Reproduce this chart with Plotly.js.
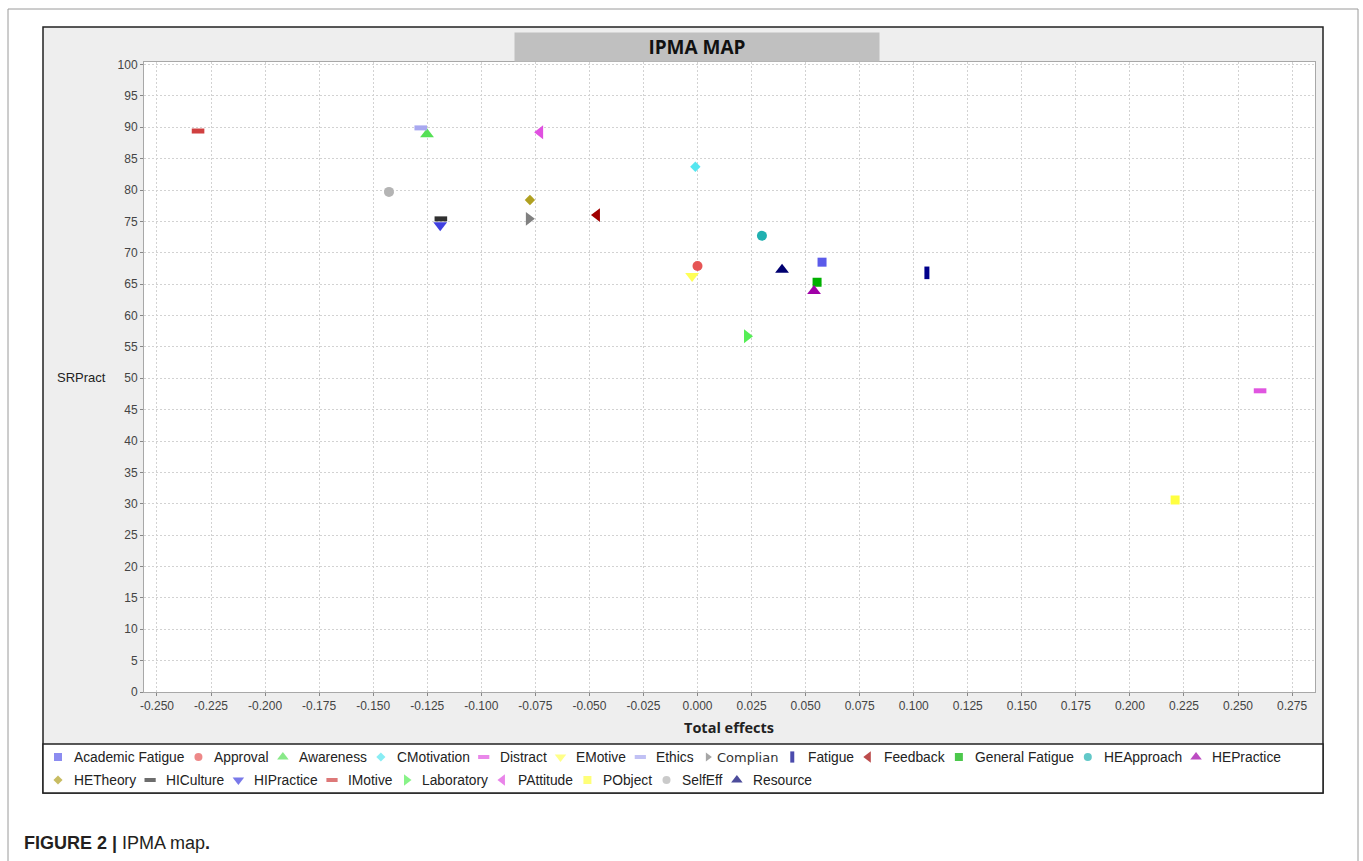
<!DOCTYPE html>
<html><head><meta charset="utf-8">
<script src="https://cdn.plot.ly/plotly-3.0.1.min.js"></script>
<style>html,body{margin:0;padding:0;background:#fff;} #chart{width:1363px;height:861px;}</style>
</head><body><div id="chart"></div>
<script>
// ---- data ----
const categories = ["Academic Fatigue","Approval","Awareness","CMotivation","Distract","EMotive","Ethics","Complian","Fatigue","Feedback","General Fatigue","HEApproach","HEPractice","HETheory","HICulture","HIPractice","IMotive","Laboratory","PAttitude","PObject","SelfEff","Resource"];
const totalEffects = [0.0576, 0.0000, -0.1251, -0.0010, 0.2602, -0.0025, -0.1280, -0.0780, 0.1061, -0.0465, 0.0553, 0.0298, 0.0539, -0.0775, -0.1187, -0.1190, -0.2310, 0.0229, -0.0728, 0.2209, -0.1427, 0.0391];
const performance  = [68.5, 67.9, 88.9, 83.7, 48.0, 66.3, 89.9, 75.4, 66.8, 76.0, 65.3, 72.7, 63.9, 78.4, 75.4, 74.4, 89.4, 56.7, 89.2, 30.6, 79.7, 67.3];
const xTickVals = [-0.25,-0.225,-0.2,-0.175,-0.15,-0.125,-0.1,-0.075,-0.05,-0.025,0,0.025,0.05,0.075,0.1,0.125,0.15,0.175,0.2,0.225,0.25,0.275];
const xTickText = ["-0.250","-0.225","-0.200","-0.175","-0.150","-0.125","-0.100","-0.075","-0.050","-0.025","0.000","0.025","0.050","0.075","0.100","0.125","0.150","0.175","0.200","0.225","0.250","0.275"];
const yTickVals = [0,5,10,15,20,25,30,35,40,45,50,55,60,65,70,75,80,85,90,95,100];
const titleText = "IPMA MAP";
const xTitle = "Total effects";
const yTitle = "SRPract";

// ---- styles ----
const symbols = ["square","circle","triangle-up","diamond","line-ew","triangle-down","line-ew","triangle-right","line-ns","triangle-left","square","circle","triangle-up","diamond","line-ew","triangle-down","line-ew","triangle-right","triangle-left","square","circle","triangle-up"];
const colors = ["#5b5bea","#e65555","#55e055","#55e6f0","#e055e0","#ffff55","#a8a8f0","#808080","#00008b","#a00000","#00b000","#20b0b0","#a000a8","#b0a020","#303030","#4040e0","#d04040","#55ee55","#e050e0","#ffff40","#b4b4b4","#000070"];

const W = 1363, H = 861;
const px = v => v / W;
const py = v => 1 - v / H;
const isLine = s => s.startsWith("line");
const isTri = s => s.startsWith("triangle");
const markSize = s => isLine(s) ? 9 : isTri(s) ? 12 : s === "diamond" ? 8 : s === "square" ? 9 : 10;

const traces = categories.map((name, i) => ({
  type: "scatter", mode: "markers", name: name,
  x: [totalEffects[i]], y: [performance[i]],
  xaxis: "x", yaxis: "y", showlegend: false,
  marker: {
    symbol: symbols[i], color: colors[i], size: markSize(symbols[i]),
    line: isLine(symbols[i]) ? {color: colors[i], width: 5} : {width: 0}
  }
}));

// ---- manual legend (positions computed from measured text widths) ----
const ctx = document.createElement("canvas").getContext("2d");
const legFont = {family: "Liberation Sans, Arial, sans-serif", size: 13.8, color: "#222"};
const altFont = {family: "DejaVu Sans, sans-serif", size: 13, color: "#333"};
const legRowY = [757, 780];
let lx = 58, row = 0;
const legSymX = [], legSymY = [], annotations = [];
categories.forEach((name, i) => {
  const alt = name === "Complian";
  const f = alt ? altFont : legFont;
  ctx.font = f.size + "px '" + f.family.split(",")[0].trim() + "'";
  const w = ctx.measureText(name).width;
  const gap = alt ? 7 : 14;
  if (lx + gap + w > 1318) { row++; lx = 58; }
  legSymX.push(lx); legSymY.push(legRowY[row]);
  annotations.push({xref: "paper", yref: "paper", x: px(lx + gap), y: py(legRowY[row]),
    xanchor: "left", yanchor: "middle", text: name, showarrow: false, font: f});
  lx += gap + w + 16;
});
traces.push({
  type: "scatter", mode: "markers", xaxis: "x2", yaxis: "y2", showlegend: false, hoverinfo: "skip",
  x: legSymX, y: legSymY,
  marker: {
    symbol: symbols, color: colors,
    size: symbols.map((s, i) => categories[i] === "Complian" ? 8 : isTri(s) ? 10 : isLine(s) ? 8 : s === "diamond" ? 7 : 8),
    line: {color: colors, width: symbols.map(s => isLine(s) ? 4 : 0)}
  }
});

annotations.push(
  {xref: "paper", yref: "paper", x: px(697), y: py(47), xanchor: "center", yanchor: "middle",
   text: "<b>" + titleText + "</b>", showarrow: false, bgcolor: "#c0c0c0", width: 364, height: 28,
   borderpad: 0, font: {family: "Open Sans, sans-serif", size: 19, color: "#111"}},
  {xref: "paper", yref: "paper", x: px(729), y: py(727), xanchor: "center", yanchor: "middle",
   text: "<b>" + xTitle + "</b>", showarrow: false,
   font: {family: "Open Sans, sans-serif", size: 14.5, color: "#222"}},
  {xref: "paper", yref: "paper", x: px(108), y: py(378), xanchor: "right", yanchor: "middle",
   text: yTitle, showarrow: false, font: {family: "Liberation Sans, Arial, sans-serif", size: 13, color: "#222"}},
  {xref: "paper", yref: "paper", x: px(22), y: py(843), xanchor: "left", yanchor: "middle",
   text: "<b>FIGURE 2 |</b> IPMA map<b>.</b>", showarrow: false,
   font: {family: "Liberation Sans, Arial, sans-serif", size: 18, color: "#231f20"}}
);

const shapes = [
  {type: "rect", xref: "paper", yref: "paper", layer: "below", x0: px(8), x1: px(1358), y0: py(9), y1: -0.2,
   line: {color: "#9a9a9a", width: 1}, fillcolor: "#ffffff"},
  {type: "rect", xref: "paper", yref: "paper", layer: "below", x0: px(43), x1: px(1323), y0: py(27), y1: py(793),
   line: {color: "#222", width: 1.5}, fillcolor: "#eeeeee"},
  {type: "rect", xref: "paper", yref: "paper", layer: "below", x0: px(144), x1: px(1315), y0: py(62), y1: py(692),
   line: {width: 0}, fillcolor: "#ffffff"},
  {type: "rect", xref: "paper", yref: "paper", layer: "below", x0: px(43), x1: px(1323), y0: py(744), y1: py(793),
   line: {color: "#222", width: 1.5}, fillcolor: "#ffffff"}
];

const tickFont = {family: "Liberation Sans, Arial, sans-serif", size: 12, color: "#444"};
const layout = {
  width: W, height: H,
  margin: {l: 0, r: 0, t: 0, b: 0, pad: 0},
  paper_bgcolor: "#ffffff", plot_bgcolor: "rgba(0,0,0,0)",
  showlegend: false,
  xaxis: {domain: [px(144), px(1315)], range: [-0.256, 0.2856], tickvals: xTickVals, ticktext: xTickText,
    ticks: "outside", ticklen: 3, tickcolor: "#888", tickfont: tickFont,
    showgrid: true, gridcolor: "#d2d2d2", griddash: "2px,2px", gridwidth: 1, zeroline: false,
    showline: true, linecolor: "#a8a8a8", linewidth: 1, mirror: true, anchor: "y"},
  yaxis: {domain: [py(692), py(62)], range: [0, 100.4], tickvals: yTickVals,
    ticks: "outside", ticklen: 3, tickcolor: "#888", tickfont: tickFont,
    showgrid: true, gridcolor: "#d2d2d2", griddash: "2px,2px", gridwidth: 1, zeroline: false,
    showline: true, linecolor: "#a8a8a8", linewidth: 1, mirror: true, anchor: "x"},
  xaxis2: {domain: [0, 1], range: [0, W], visible: false, anchor: "y2", fixedrange: true},
  yaxis2: {domain: [0, 1], range: [H, 0], visible: false, anchor: "x2", fixedrange: true},
  shapes: shapes,
  annotations: annotations
};

Plotly.newPlot("chart", traces, layout, {displayModeBar: false, staticPlot: true});
</script>
</body></html>
